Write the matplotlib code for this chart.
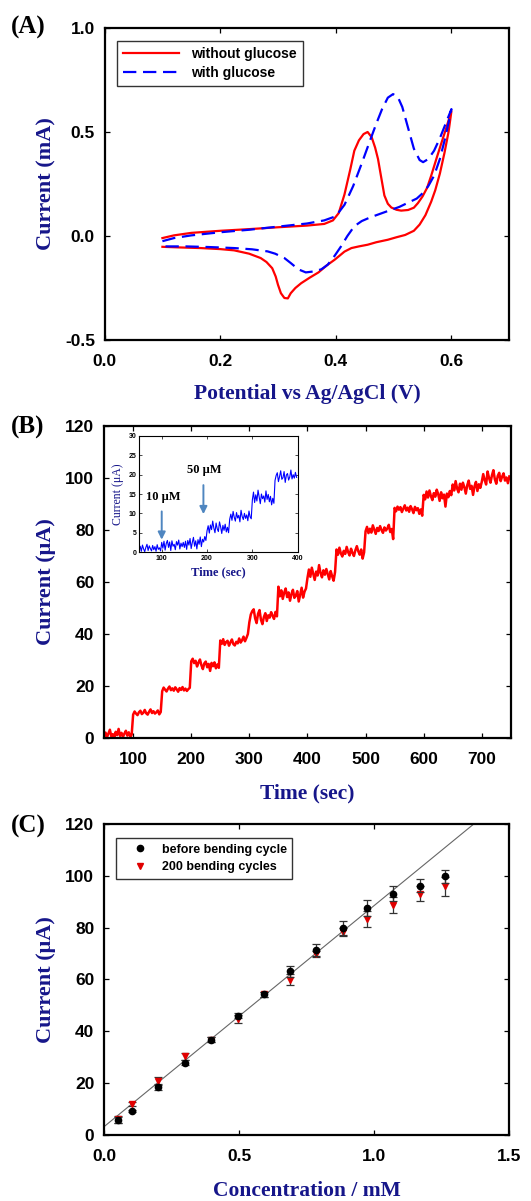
"""Three-panel glucose sensor figure: CV, amperometric steps, calibration."""
import numpy as np
import matplotlib
matplotlib.use("Agg")
import matplotlib.pyplot as plt

# --- (A) cyclic voltammograms: forward then reverse sweep ---
cv_red_x = [0.100, 0.120, 0.150, 0.200, 0.250, 0.300, 0.350, 0.380, 0.395, 0.405,
            0.415, 0.425, 0.432, 0.440, 0.448, 0.455, 0.462, 0.468, 0.473, 0.478,
            0.484, 0.490, 0.496, 0.505, 0.513, 0.525, 0.535, 0.542, 0.550, 0.558,
            0.565, 0.575, 0.583, 0.590, 0.600,
            0.595, 0.588, 0.580, 0.572, 0.565, 0.555, 0.545, 0.535, 0.520, 0.505,
            0.490, 0.470, 0.455, 0.440, 0.427, 0.415, 0.405, 0.398, 0.385, 0.370,
            0.355, 0.340, 0.330, 0.322, 0.317, 0.311, 0.305, 0.300, 0.296, 0.290,
            0.280, 0.270, 0.250, 0.224, 0.200, 0.166, 0.130, 0.100]
cv_red_y = [-0.010, 0.003, 0.015, 0.025, 0.033, 0.042, 0.050, 0.058, 0.075, 0.110,
            0.200, 0.320, 0.410, 0.460, 0.490, 0.500, 0.475, 0.425, 0.370, 0.290,
            0.195, 0.155, 0.137, 0.126, 0.122, 0.125, 0.136, 0.158, 0.190, 0.232,
            0.290, 0.380, 0.450, 0.510, 0.600,
            0.500, 0.400, 0.300, 0.220, 0.165, 0.100, 0.055, 0.025, 0.005, -0.006,
            -0.018, -0.030, -0.042, -0.050, -0.058, -0.075, -0.098, -0.114, -0.140, -0.175,
            -0.200, -0.227, -0.250, -0.275, -0.300, -0.298, -0.275, -0.235, -0.195, -0.155,
            -0.125, -0.106, -0.085, -0.069, -0.063, -0.058, -0.055, -0.052]

cv_blue_x = [0.100, 0.120, 0.150, 0.200, 0.250, 0.300, 0.350, 0.380, 0.400, 0.415,
             0.430, 0.445, 0.460, 0.470, 0.480, 0.490, 0.499, 0.507, 0.515, 0.525,
             0.535, 0.545, 0.551, 0.560, 0.570, 0.580, 0.590, 0.600,
             0.590, 0.580, 0.570, 0.560, 0.550, 0.540, 0.525, 0.510, 0.495, 0.480,
             0.460, 0.445, 0.432, 0.420, 0.409, 0.398, 0.386, 0.375, 0.363, 0.348,
             0.335, 0.322, 0.311, 0.295, 0.282, 0.255, 0.224, 0.180, 0.140, 0.100]
cv_blue_y = [-0.025, -0.010, 0.003, 0.018, 0.030, 0.045, 0.060, 0.075, 0.095, 0.150,
             0.240, 0.350, 0.465, 0.540, 0.610, 0.665, 0.682, 0.670, 0.620, 0.520,
             0.420, 0.365, 0.355, 0.370, 0.410, 0.470, 0.540, 0.610,
             0.480, 0.370, 0.290, 0.240, 0.205, 0.180, 0.160, 0.140, 0.125, 0.110,
             0.090, 0.072, 0.047, 0.000, -0.050, -0.095, -0.138, -0.160, -0.170, -0.175,
             -0.160, -0.130, -0.106, -0.085, -0.074, -0.064, -0.058, -0.053, -0.050, -0.050]

# --- (B) amperometric response, 2.5 s samples, one list per 50 s injection step ---
amp_t0 = 50.0
amp_dt = 2.5
amp_steps = [
    [0.5, 2.1, 0.3, 1.8, 3.2, 0.6, 1.5, 0.2, 2.4, 1.1, 3.5, 0.8, 2.0, 0.4, 1.7, 2.8, 0.9, 2.2, 0.5, 1.3],
    [9.0, 10.2, 9.4, 8.8, 9.9, 10.5, 9.2, 9.7, 10.8, 9.5, 9.0, 10.1, 11.0, 9.6, 10.3, 9.4, 9.9, 10.6, 9.1, 10.0],
    [18.0, 19.4, 18.6, 17.9, 19.0, 19.8, 18.4, 19.1, 18.2, 19.5, 18.7, 17.8, 19.2, 18.5, 19.6, 18.3, 19.0, 18.1, 18.8, 19.3],
    [29.5, 30.5, 28.8, 29.7, 27.5, 29.0, 30.2, 28.0, 26.5, 28.7, 29.4, 27.2, 28.5, 25.8, 28.9, 27.6, 29.1, 26.8, 28.3, 27.0],
    [37.5, 36.2, 38.0, 35.8, 36.9, 37.4, 35.5, 36.8, 37.9, 36.1, 35.6, 37.0, 36.4, 38.3, 36.7, 37.6, 39.0, 37.2, 38.5, 40.0],
    [44.5, 47.5, 48.8, 49.5, 46.0, 44.2, 47.8, 49.2, 45.5, 43.8, 46.5, 48.0, 45.0, 47.2, 46.3, 48.4, 47.0, 45.8, 48.5, 46.8],
    [58.2, 54.5, 56.8, 53.5, 55.9, 57.5, 54.2, 56.0, 52.8, 55.4, 57.0, 53.9, 54.8, 56.5, 52.5, 55.2, 57.8, 54.0, 56.3, 57.5],
    [61.5, 64.8, 62.0, 65.5, 63.2, 60.8, 64.0, 62.5, 66.5, 63.5, 61.8, 64.5, 62.8, 65.0, 63.0, 61.0, 64.2, 62.2, 60.5, 63.8],
    [72.5, 70.5, 73.2, 71.0, 69.8, 72.0, 70.8, 73.5, 71.5, 70.2, 72.8, 71.2, 70.0, 72.2, 73.8, 71.8, 70.5, 72.5, 69.0, 71.4],
    [79.5, 81.2, 78.8, 80.5, 79.0, 81.8, 80.2, 78.5, 80.8, 79.6, 81.5, 80.0, 78.9, 81.0, 79.8, 80.6, 82.0, 79.2, 80.4, 76.5],
    [88.5, 87.2, 89.0, 87.8, 88.8, 86.9, 88.2, 89.5, 87.5, 88.6, 87.0, 89.2, 88.0, 86.5, 88.9, 87.6, 88.4, 86.2, 87.9, 85.5],
    [93.5, 91.8, 94.8, 92.5, 95.2, 93.0, 91.5, 94.2, 92.8, 95.5, 93.8, 91.2, 94.5, 92.2, 93.6, 89.0, 94.0, 92.6, 95.0, 93.4],
    [97.5, 95.2, 98.8, 96.0, 94.5, 97.8, 95.5, 98.2, 96.5, 94.0, 97.2, 99.0, 95.8, 97.0, 93.5, 96.8, 98.5, 95.0, 97.6, 96.2],
    [98.5, 101.5, 99.2, 97.5, 102.5, 100.0, 98.2, 101.0, 103.0, 99.5, 97.8, 100.8, 102.0, 98.8, 100.5, 101.8, 99.0, 100.2, 98.0, 100.6],
]

# inset: low-concentration steps (10 uM then 50 uM additions)
ins_steps = [
    [0.5, 1.5, 0.2, 1.8, 0.8, 0.1, 1.2, 2.0, 0.4, 1.6, 0.9, 0.3, 1.7, 0.6, 1.4, 0.2, 1.9, 0.7, 1.1, 0.3],
    [2.5, 1.0, 2.8, 0.5, 2.2, 3.0, 1.2, 2.6, 0.4, 2.9, 1.5, 2.0, 0.6, 2.7, 1.8, 3.1, 0.8, 2.3, 1.4, 2.5],
    [1.2, 2.8, 0.7, 3.0, 1.8, 3.5, 0.9, 2.5, 3.8, 1.5, 2.9, 0.8, 3.2, 2.0, 3.9, 1.4, 3.3, 2.6, 4.0, 3.0],
    [5.5, 6.8, 4.9, 7.0, 5.8, 8.0, 6.2, 5.0, 7.5, 6.0, 5.3, 7.8, 6.5, 4.8, 6.9, 5.6, 7.2, 5.2, 6.4, 5.0],
    [8.5, 9.8, 8.2, 10.5, 9.0, 8.0, 10.2, 8.8, 9.5, 7.8, 10.8, 9.2, 8.4, 10.0, 8.7, 9.6, 8.1, 10.6, 9.1, 8.6],
    [13.5, 15.5, 12.8, 14.8, 13.2, 16.0, 14.2, 12.5, 15.0, 13.8, 14.5, 12.9, 15.8, 13.6, 14.9, 13.0, 14.4, 12.2, 13.9, 12.6],
    [18.5, 19.8, 20.5, 18.2, 19.5, 21.0, 18.8, 19.2, 20.8, 18.0, 19.9, 20.3, 18.6, 19.4, 21.2, 18.9, 20.0, 19.1, 20.6, 19.3],
]

# --- (C) calibration ---
conc_mM = [0.052, 0.102, 0.200, 0.299, 0.397, 0.495, 0.592, 0.688, 0.784, 0.883, 0.975, 1.071, 1.169, 1.262]
cur_before = [5.8, 9.3, 18.4, 27.9, 36.7, 46.0, 54.3, 63.1, 71.3, 79.8, 87.5, 93.1, 96.2, 99.8]
err_before = [1.0, 0.5, 1.0, 1.0, 1.0, 1.0, 1.0, 2.0, 2.3, 2.8, 3.0, 2.8, 2.4, 2.6]
cur_after = [6.0, 12.0, 21.0, 30.3, 36.7, 44.7, 54.3, 59.9, 69.8, 78.2, 83.3, 88.8, 93.1, 95.9]
err_after = [1.2, 0.8, 1.5, 1.2, 1.0, 1.5, 1.0, 2.2, 1.3, 1.5, 3.0, 3.0, 2.8, 3.8]
fit_slope = 85.3
fit_intercept = 3.2

NAVY = "#16168a"
SANS = "Liberation Sans"
SERIF = "Liberation Serif"

plt.rcParams.update({
    "font.family": SANS,
    "font.weight": "bold",
    "xtick.direction": "in",
    "ytick.direction": "in",
    "xtick.top": True,
    "ytick.right": True,
    "xtick.major.size": 3.5,
    "ytick.major.size": 3.5,
    "xtick.major.width": 0.9,
    "ytick.major.width": 0.9,
    "xtick.labelsize": 12.5,
    "ytick.labelsize": 12.5,
    "axes.linewidth": 1.6,
})

fig = plt.figure(figsize=(5.31, 12.01), dpi=100)
ax_a = fig.add_axes([0.197, 0.7169, 0.762, 0.2598])
ax_b = fig.add_axes([0.196, 0.3855, 0.766, 0.2598])
ax_c = fig.add_axes([0.196, 0.0550, 0.763, 0.2590])


def label_axes(ax, xlabel, ylabel, xlab_y=-0.145):
    ax.set_xlabel(xlabel, family=SERIF, weight="bold", size=15.5, color=NAVY)
    ax.set_ylabel(ylabel, family=SERIF, weight="bold", size=16, color=NAVY)
    ax.xaxis.set_label_coords(0.5, xlab_y)
    ax.yaxis.set_label_coords(-0.118, 0.5)
    ax.xaxis.label.set_va("top")
    ax.tick_params(axis="y", pad=7)
    ax.tick_params(axis="x", pad=10)
    for lab in ax.get_xticklabels() + ax.get_yticklabels():
        lab.set_fontweight("bold")


# (A)
ax_a.plot(cv_red_x, cv_red_y, color="#ff0000", lw=1.6, label="without glucose")
ax_a.plot(cv_blue_x, cv_blue_y, color="#0000ff", lw=1.6, ls=(0, (6, 3)), label="with glucose")
ax_a.set_xlim(0, 0.7)
ax_a.set_ylim(-0.5, 1.0)
ax_a.set_xticks([0.0, 0.2, 0.4, 0.6])
ax_a.set_yticks([-0.5, 0.0, 0.5, 1.0])
ax_a.set_xticklabels(["0.0", "0.2", "0.4", "0.6"])
ax_a.set_yticklabels(["-0.5", "0.0", "0.5", "1.0"])
leg = ax_a.legend(loc="upper left", bbox_to_anchor=(0.031, 0.958), borderaxespad=0,
                  prop={"family": SANS, "weight": "bold", "size": 10},
                  handlelength=4.0, handletextpad=0.9, fancybox=False,
                  edgecolor="#333333", framealpha=1, labelspacing=0.35, borderpad=0.45)
leg.get_frame().set_linewidth(1.0)
label_axes(ax_a, "Potential vs Ag/AgCl (V)", "Current (mA)", xlab_y=-0.14)

# (B)
amp_y = np.concatenate(amp_steps)
amp_t = amp_t0 + amp_dt * np.arange(len(amp_y))
ax_b.plot(amp_t, amp_y, color="#ff0000", lw=1.8)
ax_b.set_xlim(50, 750)
ax_b.set_ylim(0, 120)
ax_b.set_xticks(range(100, 701, 100))
ax_b.set_yticks(range(0, 121, 20))
label_axes(ax_b, "Time (sec)", "Current (\u03bcA)")

ins = ax_b.inset_axes([0.086, 0.596, 0.39, 0.372])
ins_y = np.concatenate(ins_steps)
ins_t = amp_t0 + amp_dt * np.arange(len(ins_y))
ins.plot(ins_t, ins_y, color="#0000ff", lw=0.8)
ins.set_xlim(50, 400)
ins.set_ylim(0, 30)
ins.set_xticks([100, 200, 300, 400])
ins.set_yticks(range(0, 31, 5))
for s in ins.spines.values():
    s.set_linewidth(0.8)
ins.tick_params(labelsize=5, length=2, width=0.5, pad=2)
for lab in ins.get_xticklabels() + ins.get_yticklabels():
    lab.set_fontweight("bold")
ins.set_xlabel("Time (sec)", family=SERIF, weight="bold", size=9, color=NAVY, labelpad=3)
ins.set_ylabel("Current (\u03bcA)", family=SERIF, weight="normal", size=8.5, color=NAVY, labelpad=3)
arrow_kw = dict(arrowstyle="-|>", color="#4f86c0", lw=1.4, mutation_scale=11, shrinkA=0, shrinkB=0)
ins.annotate("", xy=(100, 3.2), xytext=(100, 10.5), arrowprops=arrow_kw)
ins.annotate("", xy=(192, 9.8), xytext=(192, 17.3), arrowprops=arrow_kw)
ins.text(103, 14.2, "10 \u03bcM", family=SERIF, weight="bold", size=9, ha="center", va="center")
ins.text(193, 21.2, "50 \u03bcM", family=SERIF, weight="bold", size=9, ha="center", va="center")

# (C)
fit_x = np.array([0.0, 1.5])
ax_c.plot(fit_x, fit_intercept + fit_slope * fit_x, color="#666666", lw=0.8, zorder=1)
ax_c.errorbar(conc_mM, cur_before, yerr=err_before, fmt="o", color="black", ms=4.5,
              ecolor="#333333", elinewidth=0.9, capsize=3, capthick=0.9,
              label="before bending cycle", zorder=3)
ax_c.errorbar(conc_mM, cur_after, yerr=err_after, fmt="v", color="#e00000", ms=5,
              ecolor="#333333", elinewidth=0.9, capsize=3, capthick=0.9,
              label="200 bending cycles", zorder=2)
ax_c.set_xlim(0, 1.5)
ax_c.set_ylim(0, 120)
ax_c.set_xticks([0.0, 0.5, 1.0, 1.5])
ax_c.set_xticklabels(["0.0", "0.5", "1.0", "1.5"])
ax_c.set_yticks(range(0, 121, 20))
handles, labels = ax_c.get_legend_handles_labels()
handles = [h[0] for h in handles]
leg_c = ax_c.legend(handles, labels, loc="upper left", bbox_to_anchor=(0.03, 0.955),
                    borderaxespad=0, prop={"family": SANS, "weight": "bold", "size": 9},
                    handlelength=2.9, handletextpad=0.3, numpoints=1, fancybox=False,
                    edgecolor="#333333", framealpha=1, labelspacing=0.45, borderpad=0.45)
leg_c.get_frame().set_linewidth(1.0)
label_axes(ax_c, "Concentration / mM", "Current (\u03bcA)", xlab_y=-0.148)

# panel tags
for tag, ypix in [("(A)", 27), ("(B)", 427), ("(C)", 826)]:
    fig.text(11 / 531, 1 - ypix / 1201, tag, family=SERIF, weight="bold", size=18,
             ha="left", va="center")

fig.savefig("out.png", dpi=100)
